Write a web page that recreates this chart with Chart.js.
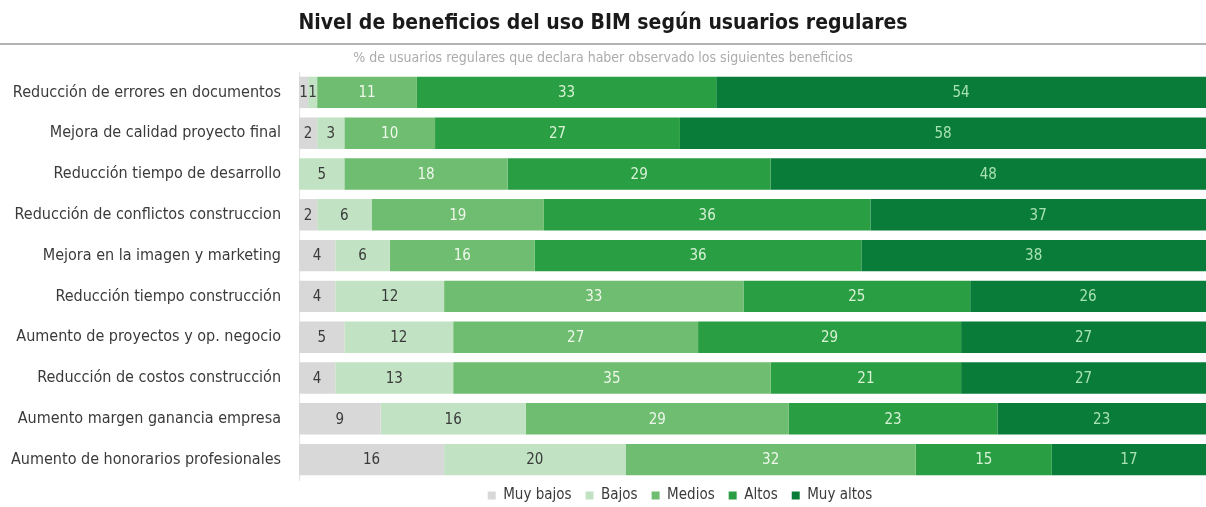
<!DOCTYPE html>
<html>
<head>
<meta charset="utf-8">
<script src="https://cdn.jsdelivr.net/npm/chart.js@4.4.1/dist/chart.umd.min.js"></script>
<style>
  html, body { margin: 0; padding: 0; background: #ffffff; }
  #wrap { width: 1206px; height: 507px; position: relative; }
</style>
</head>
<body>
<div id="wrap"><canvas id="chart" width="1206" height="507"></canvas></div>
<script>
const FONT = '"DejaVu Sans Condensed", "Liberation Sans", sans-serif';

const categories = [
  'Reducción de errores en documentos',
  'Mejora de calidad proyecto final',
  'Reducción tiempo de desarrollo',
  'Reducción de conflictos construccion',
  'Mejora en la imagen y marketing',
  'Reducción tiempo construcción',
  'Aumento de proyectos y op. negocio',
  'Reducción de costos construcción',
  'Aumento margen ganancia empresa',
  'Aumento de honorarios profesionales'
];

const seriesNames = ['Muy bajos', 'Bajos', 'Medios', 'Altos', 'Muy altos'];

const muyBajos = [1, 2, 0, 2, 4, 4, 5, 4, 9, 16];
const bajos    = [1, 3, 5, 6, 6, 12, 12, 13, 16, 20];
const medios   = [11, 10, 18, 19, 16, 33, 27, 35, 29, 32];
const altos    = [33, 27, 29, 36, 36, 25, 29, 21, 23, 15];
const muyAltos = [54, 58, 48, 37, 38, 26, 27, 27, 23, 17];

const barColors   = ['#d9d8d8', '#c2e3c3', '#6fbd71', '#2a9e43', '#0a7c3a'];
const labelColors = ['#3a3a3a', '#3a3a3a', '#eef8ea', '#d8f2d6', '#a8e2b4'];

const seriesValues = [muyBajos, bajos, medios, altos, muyAltos];

const datasets = seriesNames.map((name, i) => ({
  label: name,
  data: seriesValues[i],
  backgroundColor: barColors[i],
  borderWidth: 0,
  barPercentage: 1,
  categoryPercentage: 0.77
}));

// Writes each segment's value in the middle of its bar piece
const segmentLabels = {
  id: 'segmentLabels',
  afterDatasetsDraw(chart) {
    const ctx = chart.ctx;
    ctx.save();
    ctx.font = '15px ' + FONT;
    ctx.textAlign = 'center';
    ctx.textBaseline = 'middle';
    chart.data.datasets.forEach((ds, di) => {
      const meta = chart.getDatasetMeta(di);
      meta.data.forEach((bar, idx) => {
        const v = ds.data[idx];
        if (!v) return;
        const p = bar.getProps(['x', 'y', 'base'], true);
        ctx.fillStyle = labelColors[di];
        ctx.fillText(String(v), (p.x + p.base) / 2, p.y + 1);
      });
    });
    ctx.restore();
  }
};

// Rule under the heading and placement of the legend row
const decorations = {
  id: 'decorations',
  afterLayout(chart) {
    const lg = chart.legend;
    if (lg) {
      lg.left += 77; lg.right += 77;
      lg.top -= 6; lg.bottom -= 6;
    }
  },
  beforeDraw(chart) {
    const ctx = chart.ctx;
    ctx.save();
    ctx.strokeStyle = '#b4b4b4';
    ctx.lineWidth = 2;
    ctx.beginPath();
    ctx.moveTo(0, 44);
    ctx.lineTo(chart.width, 44);
    ctx.stroke();
    ctx.restore();
  }
};

new Chart(document.getElementById('chart'), {
  type: 'bar',
  data: { labels: categories, datasets },
  options: {
    indexAxis: 'y',
    responsive: false,
    animation: false,
    layout: { padding: { left: 0, right: 0, top: 0, bottom: -12 } },
    scales: {
      x: {
        stacked: true,
        min: 0,
        max: 100,
        display: false
      },
      y: {
        stacked: true,
        grid: { display: false },
        border: { display: true, color: '#e2e2e2', width: 1 },
        ticks: {
          color: '#3a3a3a',
          font: { family: FONT, size: 16 },
          padding: 10,
          autoSkip: false
        },
        afterFit(scale) { scale.width = 299; }
      }
    },
    plugins: {
      title: {
        display: true,
        text: 'Nivel de beneficios del uso BIM según usuarios regulares',
        color: '#1a1a1a',
        font: { family: FONT, size: 21, weight: 'bold' },
        padding: { top: 11, bottom: 14 }
      },
      subtitle: {
        display: true,
        text: '% de usuarios regulares que declara haber observado los siguientes beneficios',
        color: '#ababab',
        font: { family: FONT, size: 14 },
        padding: { top: 0, bottom: 5 }
      },
      legend: {
        display: true,
        position: 'bottom',
        labels: {
          color: '#3a3a3a',
          font: { family: FONT, size: 15 },
          usePointStyle: true,
          pointStyle: 'rect',
          boxWidth: 8,
          boxHeight: 8,
          padding: 14
        }
      },
      tooltip: { enabled: false }
    }
  },
  plugins: [segmentLabels, decorations]
});
</script>
</body>
</html>
